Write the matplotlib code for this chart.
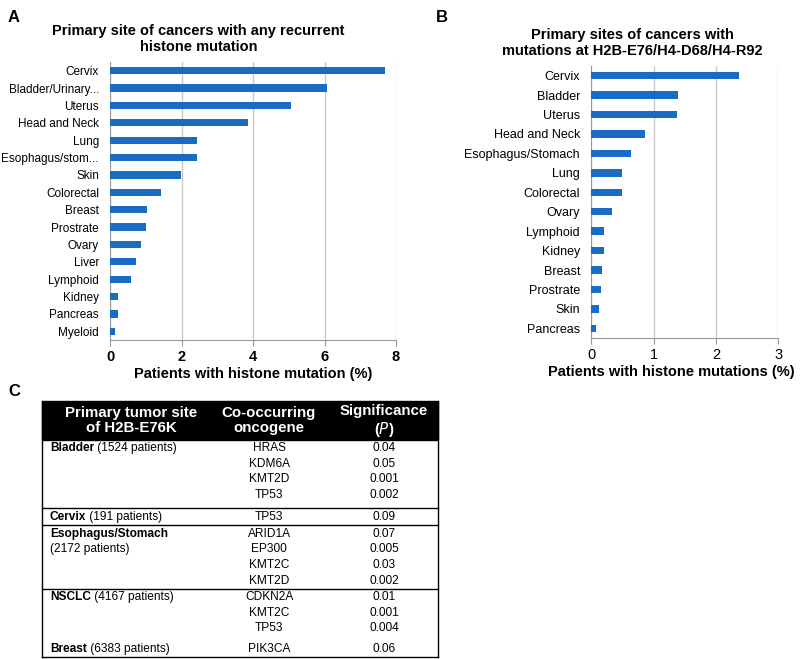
import matplotlib.pyplot as plt

plt.rcParams["font.family"] = ["Liberation Sans", "DejaVu Sans"]

# Panel A data
sites_a = ["Cervix", "Bladder/Urinary...", "Uterus", "Head and Neck", "Lung",
           "Esophagus/stom...", "Skin", "Colorectal", "Breast", "Prostrate",
           "Ovary", "Liver", "Lymphoid", "Kidney", "Pancreas", "Myeloid"]
pct_a = [7.70, 6.07, 5.07, 3.86, 2.44, 2.42, 1.99, 1.44, 1.04, 1.02,
         0.86, 0.73, 0.60, 0.23, 0.23, 0.15]

# Panel B data
sites_b = ["Cervix", "Bladder", "Uterus", "Head and Neck", "Esophagus/Stomach",
           "Lung", "Colorectal", "Ovary", "Lymphoid", "Kidney", "Breast",
           "Prostrate", "Skin", "Pancreas"]
pct_b = [2.37, 1.39, 1.37, 0.87, 0.63, 0.50, 0.50, 0.34, 0.20, 0.20, 0.18,
         0.16, 0.13, 0.08]

# Panel C table
tumor_sites = ["Bladder", "Cervix", "Esophagus/Stomach", "NSCLC", "Breast"]
patients = [1524, 191, 2172, 4167, 6383]
genes = [["HRAS", "KDM6A", "KMT2D", "TP53"],
         ["TP53"],
         ["ARID1A", "EP300", "KMT2C", "KMT2D"],
         ["CDKN2A", "KMT2C", "TP53"],
         ["PIK3CA"]]
pvals = [["0.04", "0.05", "0.001", "0.002"],
         ["0.09"],
         ["0.07", "0.005", "0.03", "0.002"],
         ["0.01", "0.001", "0.004"],
         ["0.06"]]

BLUE = "#1a6bc4"
GRID = "#c8c8c8"

fig = plt.figure(figsize=(8, 6.59), dpi=100)


def bar_panel(rect, sites, vals, xmax, title, xlabel, tick_bold, bar_h,
              title_x, label_x, label_fs):
    ax = fig.add_axes(rect)
    y = list(range(len(sites)))
    ax.barh(y, vals, height=bar_h, color=BLUE, zorder=3)
    ax.set_ylim(len(sites) - 0.5, -0.5)
    ax.set_xlim(0, xmax)
    ax.set_xticks(range(0, xmax + 1, 2 if xmax > 4 else 1))
    ax.set_yticks(y)
    ax.set_yticklabels(sites, fontsize=label_fs)
    ax.tick_params(axis="y", length=0, pad=8)
    ax.tick_params(axis="x", length=4, color="#999999", pad=3,
                   labelsize=10.5)
    for lab in ax.get_xticklabels():
        lab.set_fontweight("bold" if tick_bold else "normal")
    ax.grid(axis="x", color=GRID, linewidth=1, zorder=0)
    for s in ["top", "right"]:
        ax.spines[s].set_visible(False)
    for s in ["left", "bottom"]:
        ax.spines[s].set_color("#999999")
    ax.set_title(title, fontsize=10.5, fontweight="bold", pad=8, x=title_x)
    ax.set_xlabel(xlabel, fontsize=10.5, fontweight="bold", labelpad=2,
                  x=label_x)
    return ax


bar_panel([0.1375, 0.484, 0.3575, 0.422], sites_a, pct_a, 8,
          "Primary site of cancers with any recurrent\nhistone mutation",
          "Patients with histone mutation (%)", True, 0.42, 0.31, 0.5, 8.5)
bar_panel([0.739, 0.487, 0.234, 0.413], sites_b, pct_b, 3,
          "Primary sites of cancers with\nmutations at H2B-E76/H4-D68/H4-R92",
          "Patients with histone mutations (%)", False, 0.38, 0.22, 0.43, 9)

fig.text(0.01, 0.985, "A", fontsize=12, fontweight="bold", va="top")
fig.text(0.545, 0.985, "B", fontsize=12, fontweight="bold", va="top")
fig.text(0.01, 0.418, "C", fontsize=12, fontweight="bold", va="top")

# table drawn in pixel coordinates
tab = fig.add_axes([0, 0, 1, 1])
tab.set_xlim(0, 800)
tab.set_ylim(659, 0)
tab.axis("off")

x0, x1 = 42, 438
col_site, col_gene, col_p = 50, 269, 384
top, head_bot, bottom = 401, 440, 657

tab.add_patch(plt.Rectangle((x0, top), x1 - x0, head_bot - top,
                            color="black", zorder=1))
hdr = dict(color="white", fontsize=10.8, fontweight="bold", ha="center",
           va="center", linespacing=1.1)
tab.text(131, (top + head_bot) / 2, "Primary tumor site\nof H2B-E76K", **hdr)
tab.text(col_gene, (top + head_bot) / 2, "Co-occurring\noncogene", **hdr)
tab.text(col_p, (top + head_bot) / 2 - 9, "Significance", **hdr)
tab.text(col_p, (top + head_bot) / 2 + 9, "($\\mathit{P}$)", **hdr)

# row layout: first-row y of each group and separator line below group
row_step = 15.7
group_start = [448, 516.7, 533.7, 597, 649.3]
group_line = [508.3, 525, 589.3, None, bottom]

fs = 8.6
for gi, site in enumerate(tumor_sites):
    y0 = group_start[gi]
    t = tab.text(col_site, y0, site, fontsize=fs, fontweight="bold",
                 va="center")
    pt = f"({patients[gi]} patients)"
    if site.startswith("Esophagus"):
        tab.text(col_site, y0 + row_step, pt, fontsize=fs, va="center")
    else:
        tab.annotate(" " + pt, xy=(1, 0), xycoords=t, fontsize=fs,
                     va="bottom", ha="left")
    for ri, (g, p) in enumerate(zip(genes[gi], pvals[gi])):
        yy = y0 + ri * row_step
        tab.text(col_gene, yy, g, fontsize=fs, ha="center", va="center")
        tab.text(col_p, yy, p, fontsize=fs, ha="center", va="center")
    if group_line[gi] is not None:
        tab.plot([x0, x1], [group_line[gi]] * 2, color="black", lw=1)

tab.plot([x0, x0], [top, bottom], color="black", lw=1)
tab.plot([x1, x1], [top, bottom], color="black", lw=1)

fig.savefig("out.png", dpi=100)
